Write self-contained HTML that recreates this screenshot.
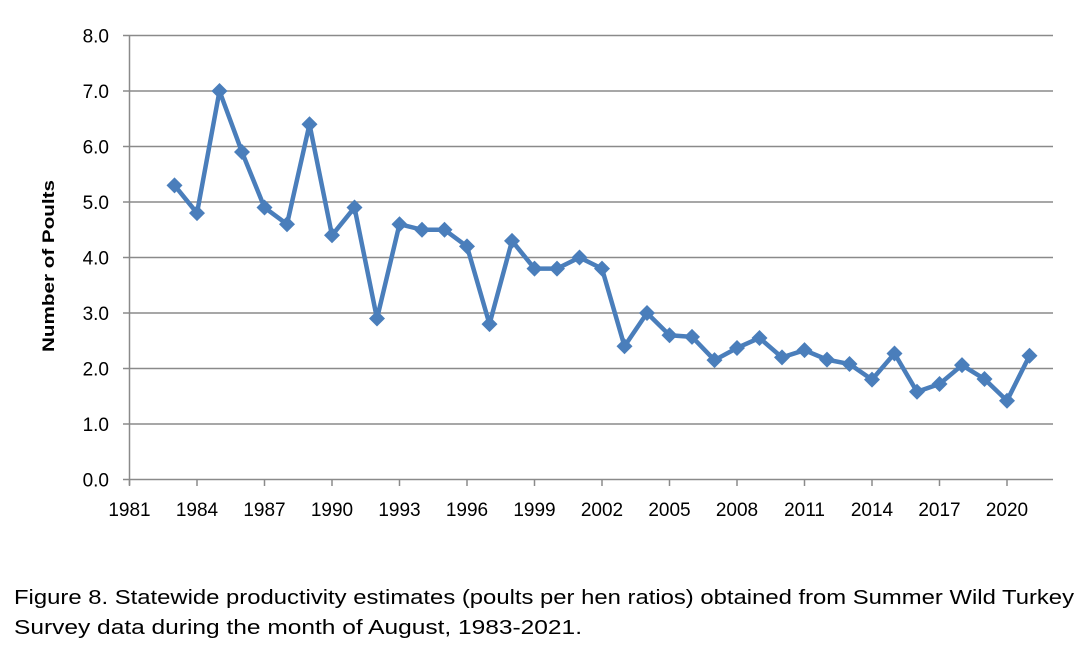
<!DOCTYPE html>
<html><head><meta charset="utf-8"><style>
body{margin:0;background:#fff;width:1087px;height:660px;overflow:hidden}
svg text{font-family:"Liberation Sans",sans-serif}
</style></head><body>
<svg width="1087" height="660" xmlns="http://www.w3.org/2000/svg">
<g id="g"></g>
</svg>
<script>
const d=[5.3,4.8,7.0,5.9,4.9,4.6,6.4,4.4,4.9,2.9,4.6,4.5,4.5,4.2,2.8,4.3,3.8,3.8,4.0,3.8,2.4,3.0,2.6,2.57,2.15,2.37,2.55,2.2,2.33,2.16,2.08,1.8,2.27,1.58,1.72,2.06,1.81,1.42,2.23];
const X=y=>129.5+(y-1981)*22.5, Y=v=>479.5-v*55.5;
let s='';
for(let i=1;i<=8;i++)s+=`<line x1="129.5" x2="1053" y1="${Y(i)}" y2="${Y(i)}" stroke="#8a8a8a" stroke-width="1.5"/>`;
for(let i=0;i<=8;i++)s+=`<text x="109" y="${Y(i)+7}" font-size="19" text-anchor="end">${i.toFixed(1)}</text><line x1="123" x2="129.5" y1="${Y(i)}" y2="${Y(i)}" stroke="#8a8a8a" stroke-width="1.5"/>`;
s+=`<line x1="129.5" x2="129.5" y1="35.5" y2="485" stroke="#8a8a8a" stroke-width="1.5"/><line x1="129.5" x2="1053" y1="479.5" y2="479.5" stroke="#8a8a8a" stroke-width="1.5"/>`;
for(let y=1981;y<=2020;y+=3)s+=`<text x="${X(y)}" y="516" font-size="19" text-anchor="middle">${y}</text><line x1="${X(y)}" x2="${X(y)}" y1="479.5" y2="486" stroke="#8a8a8a" stroke-width="1.5"/>`;
let p=d.map((v,i)=>X(1983+i)+','+Y(v)).join(' ');
s+=`<polyline points="${p}" fill="none" stroke="#4a7ebb" stroke-width="4.5" stroke-linejoin="round"/>`;
d.forEach((v,i)=>{const x=X(1983+i),y=Y(v);s+=`<polygon points="${x},${y-8} ${x+8},${y} ${x},${y+8} ${x-8},${y}" fill="#4a7ebb"/>`});
s+=`<text transform="translate(54,266) rotate(-90)" font-size="17" font-weight="bold" text-anchor="middle" textLength="172" lengthAdjust="spacingAndGlyphs">Number of Poults</text>`;
s+=`<text x="14" y="604" font-size="20" textLength="1060" lengthAdjust="spacingAndGlyphs">Figure 8.  Statewide productivity estimates (poults per hen ratios) obtained from Summer Wild Turkey</text>`;
s+=`<text x="14" y="634" font-size="20" textLength="568" lengthAdjust="spacingAndGlyphs">Survey data during the month of August, 1983-2021.</text>`;
document.getElementById('g').innerHTML=s;
</script>
</body></html>
